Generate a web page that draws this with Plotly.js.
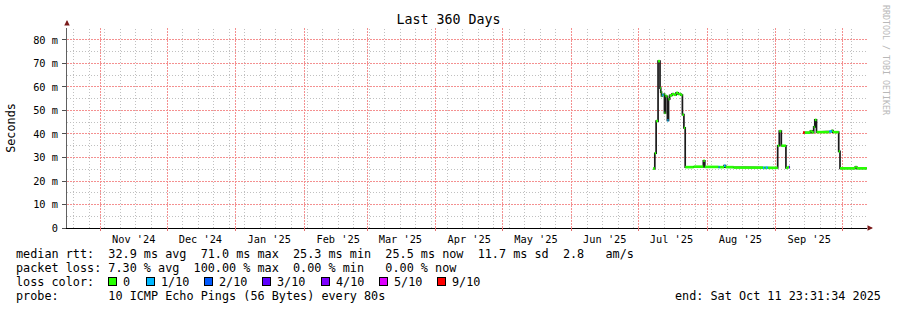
<!DOCTYPE html>
<html><head><meta charset="utf-8">
<script src="https://cdn.plot.ly/plotly-3.0.1.min.js"></script>
<style>html,body{margin:0;padding:0;background:#fff}#chart{width:897px;height:310px}</style>
</head><body><div id="chart"></div>
<script>
// ---------------- data ----------------
const startTime = '2024-10-16 23:31:34';
const endTime = '2025-10-11 23:31:34';

// step series: value holds from times[i] until times[i+1]; null = no data
const times = [
  '2025-07-07 16:00','2025-07-08 12:00','2025-07-09 02:00','2025-07-09 23:00','2025-07-10 20:00',
  '2025-07-11 04:00','2025-07-11 12:00','2025-07-11 20:00','2025-07-12 10:00','2025-07-12 20:00',
  '2025-07-13 06:00','2025-07-13 20:00','2025-07-14 04:00','2025-07-14 16:00','2025-07-15 04:00',
  '2025-07-16 06:00','2025-07-17 04:00','2025-07-18 02:00','2025-07-19 00:00','2025-07-20 06:00',
  '2025-07-20 22:00','2025-07-21 14:00','2025-07-22 04:00','2025-07-26 00:00','2025-07-30 08:00',
  '2025-07-31 00:00','2025-08-06 04:00','2025-08-06 16:00','2025-08-08 16:00','2025-08-09 08:00',
  '2025-08-13 00:00','2025-08-26 04:00','2025-08-26 20:00','2025-08-27 12:00','2025-08-28 08:00',
  '2025-09-01 19:00','2025-09-02 12:00','2025-09-03 10:00','2025-09-05 12:00','2025-09-06 08:00',
  '2025-09-06 22:00','2025-09-07 08:00','2025-09-13 04:00','2025-09-13 22:00','2025-09-16 12:00',
  '2025-09-17 06:00','2025-09-18 00:00','2025-09-18 12:00','2025-09-19 06:00','2025-09-25 00:00',
  '2025-09-26 04:00','2025-09-26 16:00','2025-09-29 06:00','2025-09-29 20:00','2025-10-06 16:00',
  '2025-10-07 10:00','2025-10-11 22:00'
];
const medianMs = [
  25.3, 31.8, 45.5, 71.0, 59.5,
  57.8, 56.2, 56.6, 56.9, 49.0,
  56.2, 56.0, 45.8, 54.8, 56.4,
  57.0, 56.7, 57.5, 57.0, 56.6,
  48.2, 42.6, 25.9, 26.1, 28.6,
  26.0, 25.9, 25.9, 26.5, 25.9,
  25.7, 25.6, 25.6, 25.7, 25.6,
  35.0, 41.2, 35.0, 25.6, 25.9,
  25.9, null, 40.6, 40.6, 41.2,
  40.7, 43.0, 46.0, 40.8, 41.1,
  41.4, 40.8, 32.6, 25.4, 25.9,
  25.4, null
];
const lossCount = [
  0, 0, 0, 0, 0,
  0, 0, 1, 0, 0,
  0, 0, 1, 0, 0,
  0, 0, 0, 0, 0,
  0, 0, 0, 0, 0,
  0, 1, 0, 1, 0,
  0, 1, 0, 1, 0,
  0, 0, 0, 0, 0,
  3, 0, 10, 0, 0,
  0, 0, 0, 0, 1,
  0, 0, 0, 0, 0,
  0, 0
];

const monthStarts = ['2024-11-01','2024-12-01','2025-01-01','2025-02-01','2025-03-01','2025-04-01',
  '2025-05-01','2025-06-01','2025-07-01','2025-08-01','2025-09-01','2025-10-01'];
const monthLabels = ["Nov '24","Dec '24","Jan '25","Feb '25","Mar '25","Apr '25",
  "May '25","Jun '25","Jul '25","Aug '25","Sep '25"];
const weekStart = '2024-10-20';

const yTickVals = [0, 10, 20, 30, 40, 50, 60, 70, 80];
const yTickText = ['0', '10 m', '20 m', '30 m', '40 m', '50 m', '60 m', '70 m', '80 m'];
const yMinorVals = [5, 15, 25, 35, 45, 55, 65, 75, 85];

const lossColors = ['#26ff00', '#00b8ff', '#0059ff', '#5e00ff', '#7e00ff', '#dd00ff', '#ff0000'];
const lossLabels = ['0', '1/10', '2/10', '3/10', '4/10', '5/10', '9/10'];

const statLine1 = 'median rtt:  32.9 ms avg  71.0 ms max  25.3 ms min  25.5 ms now  11.7 ms sd  2.8   am/s';
const statLine2 = 'packet loss: 7.30 % avg  100.00 % max  0.00 % min   0.00 % now';
const lossTitle = 'loss color:';
const probeLine = 'probe:       10 ICMP Echo Pings (56 Bytes) every 80s';
const endLine = 'end: Sat Oct 11 23:31:34 2025';

// ---------------- helpers ----------------
const MONO = 'DejaVu Sans Mono, monospace';
function parseD(s){ return s.length <= 10 ? Date.parse(s + 'T00:00:00Z') : Date.parse(s.replace(' ', 'T') + (s.length === 16 ? ':00Z' : 'Z')); }
function fmtD(ms){ return new Date(ms).toISOString().replace('T', ' ').slice(0, 23); }
const nb = s => s.replace(/ /g, '\u00a0');
// plot area in px: x 67..867, y 28..228
const PLOT_L = 67, PLOT_W = 800;
const PX = x => (x - PLOT_L) / PLOT_W;
const PY = y => (228 - y) / 200;
const lossIdx = l => (l <= 5 ? l : 6);
const s0 = parseD(startTime), s1 = parseD(endTime);
// snap a time (ms) to the centre of a device pixel so 1px grid lines stay crisp
function snapMs(ms){
  const px = PLOT_L + (ms - s0) / (s1 - s0) * PLOT_W;
  const sp = Math.floor(px) + 0.5;
  return fmtD(s0 + (sp - PLOT_L) / PLOT_W * (s1 - s0));
}

// ---------------- traces ----------------
const bx = [], by = [];
for (let i = 0; i < times.length - 1; i++) {
  if (medianMs[i] === null) { bx.push(null); by.push(null); continue; }
  bx.push(times[i], times[i + 1]); by.push(medianMs[i], medianMs[i]);
  if (medianMs[i + 1] === null) { bx.push(null); by.push(null); }
}
const traces = [{
  x: bx, y: by, type: 'scatter', mode: 'lines', line: {color: '#1a1a1a', width: 1.7},
  hoverinfo: 'skip', showlegend: false, connectgaps: false
}];
lossColors.forEach((c, k) => {
  const sx = [], sy = [];
  for (let i = 0; i < times.length - 1; i++) {
    if (medianMs[i] === null || lossIdx(lossCount[i]) !== k) continue;
    sx.push(times[i], times[i + 1], null); sy.push(medianMs[i], medianMs[i], null);
  }
  if (sx.length) traces.push({x: sx, y: sy, type: 'scatter', mode: 'lines',
    line: {color: c, width: 2.6}, hoverinfo: 'skip', showlegend: false, connectgaps: false});
});

const midMonths = monthLabels.map((_, i) => fmtD(parseD(monthStarts[i]) + 15 * 86400000));

// ---------------- time grid (shapes) ----------------
const redGrid = '#f49090';
const grayGrid = '#c0c0c0';
const shapes = [];
for (let w = parseD(weekStart); w < s1; w += 7 * 86400000) {
  const xs = snapMs(w);
  shapes.push({type: 'line', xref: 'x', yref: 'paper', x0: xs, x1: xs, y0: 0, y1: 1, layer: 'between',
    line: {color: grayGrid, width: 1, dash: '1px,2px'}});
}
monthStarts.forEach(m => {
  const xs = snapMs(parseD(m));
  shapes.push({type: 'line', xref: 'x', yref: 'paper', x0: xs, x1: xs, y0: 0, y1: 1, layer: 'between',
    line: {color: redGrid, width: 1, dash: '2px,1px'}});
  shapes.push({type: 'line', xref: 'x', yref: 'paper', x0: xs, x1: xs, y0: 0, y1: -3 / 200, layer: 'above',
    line: {color: '#e07070', width: 1}});
});

// ---------------- annotations ----------------
const ann = [];
const txt = (text, x, y, extra) => Object.assign({text: nb(text), xref: 'paper', yref: 'paper',
  x: PX(x), y: PY(y), xanchor: 'left', yanchor: 'middle', showarrow: false, borderpad: 0, borderwidth: 0,
  font: {family: MONO, size: 11.8, color: '#000'}}, extra || {});
ann.push(txt(statLine1, 16, 254));
ann.push(txt(statLine2, 16, 268));
ann.push(txt(lossTitle, 16, 282));
ann.push(txt(probeLine, 16, 296));
ann.push(txt(endLine, 881, 296, {xanchor: 'right'}));
let bxPos = 108.4;
lossColors.forEach((c, k) => {
  ann.push({text: '\u00a0', xref: 'paper', yref: 'paper', x: PX(bxPos), y: PY(281.5), xanchor: 'left', yanchor: 'middle',
    showarrow: false, width: 7, height: 7, bgcolor: c, bordercolor: '#000', borderwidth: 1, borderpad: 0,
    font: {family: MONO, size: 6}});
  const lx = bxPos + 15;
  ann.push(txt(lossLabels[k], lx, 282));
  bxPos = lx + lossLabels[k].length * 7.1 + 15;
});
// vendor tag
ann.push({text: 'RRDTOOL / TOBI OETIKER', xref: 'paper', yref: 'paper', x: PX(886), y: PY(60), textangle: 90,
  showarrow: false, xanchor: 'center', yanchor: 'middle', font: {family: MONO, size: 8.3, color: '#b8b8b8'}});
// axis arrows
ann.push({text: '', xref: 'paper', yref: 'paper', x: 0, y: PY(20), ax: 0, ay: 6, showarrow: true,
  arrowhead: 2, arrowsize: 1.1, arrowwidth: 1, arrowcolor: '#7a1a1a'});
ann.push({text: '', xref: 'paper', yref: 'paper', x: PX(873), y: 0, ax: -6, ay: 0, showarrow: true,
  arrowhead: 2, arrowsize: 1.1, arrowwidth: 1, arrowcolor: '#7a1a1a'});

// ---------------- layout ----------------
const layout = {
  width: 897, height: 310,
  margin: {l: 67, r: 30, t: 28, b: 82, pad: 0},
  paper_bgcolor: '#fff', plot_bgcolor: '#fff',
  showlegend: false,
  title: {text: 'Last 360 Days', x: 0.5, xref: 'container', xanchor: 'center',
    y: 1 - 19 / 310, yref: 'container', yanchor: 'middle',
    font: {family: MONO, size: 13.3, color: '#000'}},
  // month labels centred mid-month
  xaxis: {type: 'date', range: [startTime, endTime], tickmode: 'array', tickvals: midMonths,
    ticktext: monthLabels, showgrid: false, ticks: '', showline: true, linecolor: '#000', linewidth: 1,
    zeroline: false, fixedrange: true, ticklabelstandoff: 2,
    tickfont: {family: MONO, size: 10.3, color: '#000'}},
  yaxis: {range: [0, 85.1], tickmode: 'array', tickvals: yTickVals, ticktext: yTickText,
    showgrid: true, gridcolor: redGrid, griddash: '2px,1px', gridwidth: 1,
    minor: {tickmode: 'array', tickvals: yMinorVals, showgrid: true, gridcolor: grayGrid, griddash: '1px,2px', ticks: ''},
    ticks: 'outside', ticklen: 4, tickcolor: '#505050', showline: true, linecolor: '#606060',
    zeroline: false, tickfont: {family: MONO, size: 10.3, color: '#000'}, ticklabelstandoff: 2,
    title: {text: 'Seconds', font: {family: MONO, size: 11.8, color: '#000'}, standoff: 14},
    fixedrange: true},
  shapes: shapes,
  annotations: ann
};

Plotly.newPlot('chart', traces, layout, {staticPlot: true, displayModeBar: false});
</script>
</body></html>
